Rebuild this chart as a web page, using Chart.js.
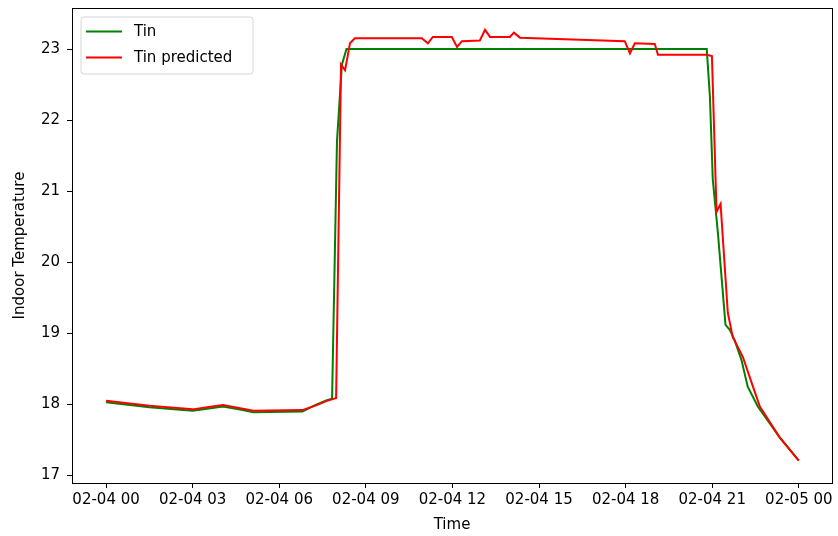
<!DOCTYPE html>
<html>
<head>
<meta charset="utf-8">
<script src="https://cdn.jsdelivr.net/npm/chart.js@4/dist/chart.umd.min.js"></script>
<style>
  html, body { margin: 0; padding: 0; background: #fff; }
  #wrap { width: 838px; height: 536px; }
</style>
</head>
<body>
<div id="wrap"><canvas id="c" width="838" height="536"></canvas></div>
<script>
// Hours since 02-04 00:00 and indoor temperatures (measured)
const tinHours = [0, 1.5, 3, 3.5, 4.05, 4.6, 5.1, 6.8, 7.3, 7.65, 7.83, 8.0, 8.17, 8.33,
  20.81, 20.92, 21.02, 21.13, 21.2, 21.46, 21.61, 21.78, 22.01, 22.23, 22.58, 23.33, 24];
const tinValues = [18.03, 17.96, 17.91, 17.94, 17.97, 17.93, 17.89, 17.90, 18.00, 18.06, 18.08, 21.7, 22.78, 23.0,
  23.0, 22.33, 21.16, 20.7, 20.4, 19.12, 19.05, 18.9, 18.63, 18.25, 17.97, 17.54, 17.21];

// Hours and model predictions of indoor temperature
const predHours = [0, 1.5, 3, 3.5, 4.05, 4.6, 5.1, 6.8, 7.3, 7.65, 7.83, 7.97, 8.14, 8.28, 8.45, 8.62,
  10.94, 11.15, 11.32, 11.98, 12.16, 12.33, 12.95, 13.13, 13.3, 13.99, 14.13, 14.34,
  17.97, 18.15, 18.32, 19.01, 19.12, 20.81, 20.99, 21.15, 21.29, 21.54, 21.71, 22.06, 22.37, 22.65, 23.33, 24];
const predValues = [18.05, 17.98, 17.93, 17.96, 17.99, 17.95, 17.91, 17.92, 17.99, 18.05, 18.07, 18.09, 22.78, 22.70, 23.08, 23.15,
  23.15, 23.08, 23.17, 23.17, 23.03, 23.11, 23.12, 23.27, 23.17, 23.17, 23.23, 23.16,
  23.11, 22.94, 23.08, 23.07, 22.92, 22.92, 22.90, 20.71, 20.82, 19.29, 18.95, 18.67, 18.30, 17.97, 17.54, 17.21];

const xTickHours = [0, 3, 6, 9, 12, 15, 18, 21, 24];
const xTickLabels = ['02-04 00', '02-04 03', '02-04 06', '02-04 09', '02-04 12',
  '02-04 15', '02-04 18', '02-04 21', '02-05 00'];
const yTickValues = [17, 18, 19, 20, 21, 22, 23];

const toPoints = (xs, ys) => xs.map((x, i) => ({ x: x, y: ys[i] }));

const FONT = 'DejaVu Sans';

// Frame around the plot area plus a boxed legend in the upper-left corner
const framePlugin = {
  id: 'frame',
  afterDraw(chart) {
    const { ctx, chartArea: a } = chart;
    ctx.save();
    ctx.strokeStyle = '#000';
    ctx.lineWidth = 1;
    ctx.strokeRect(Math.round(a.left) + 0.5, Math.round(a.top) + 0.5,
      Math.round(a.right - a.left), Math.round(a.bottom - a.top));

    // legend box
    const bx = a.left + 9, by = a.top + 9, bw = 172, bh = 57, r = 3;
    ctx.beginPath();
    ctx.moveTo(bx + r, by);
    ctx.arcTo(bx + bw, by, bx + bw, by + bh, r);
    ctx.arcTo(bx + bw, by + bh, bx, by + bh, r);
    ctx.arcTo(bx, by + bh, bx, by, r);
    ctx.arcTo(bx, by, bx + bw, by, r);
    ctx.closePath();
    ctx.fillStyle = 'rgba(255,255,255,0.8)';
    ctx.fill();
    ctx.strokeStyle = '#d6d6d6';
    ctx.stroke();

    chart.data.datasets.forEach((ds, i) => {
      const y = by + 14.5 + i * 26;
      ctx.beginPath();
      ctx.strokeStyle = ds.borderColor;
      ctx.lineWidth = 2;
      ctx.moveTo(bx + 5, y);
      ctx.lineTo(bx + 41, y);
      ctx.stroke();
      ctx.fillStyle = '#000';
      ctx.font = '15px "' + FONT + '"';
      ctx.textBaseline = 'middle';
      ctx.textAlign = 'left';
      ctx.fillText(ds.label, bx + 53, y + 1);
    });
    ctx.restore();
  }
};

new Chart(document.getElementById('c'), {
  type: 'line',
  data: {
    datasets: [
      { label: 'Tin', data: toPoints(tinHours, tinValues), borderColor: '#008000',
        borderWidth: 2, pointRadius: 0, tension: 0, fill: false, order: 1 },
      { label: 'Tin predicted', data: toPoints(predHours, predValues), borderColor: '#ff0000',
        borderWidth: 2, pointRadius: 0, tension: 0, fill: false, order: 0 }
    ]
  },
  options: {
    responsive: false,
    animation: false,
    layout: { padding: { top: 8, right: 6, left: 0, bottom: 0 } },
    plugins: { legend: { display: false }, tooltip: { enabled: false } },
    scales: {
      x: {
        type: 'linear',
        min: -1.18, max: 25.15,
        afterFit(s) { s.height = 53; s.paddingLeft = 0; s.paddingRight = 0; },
        afterBuildTicks(s) { s.ticks = xTickHours.map(v => ({ value: v })); },
        ticks: {
          autoSkip: false, maxRotation: 0, padding: 3, color: '#000',
          font: { family: FONT, size: 15 },
          callback: (v) => xTickLabels[xTickHours.indexOf(v)]
        },
        grid: { display: true, drawOnChartArea: false, drawTicks: true, tickLength: 5, color: '#000' },
        border: { display: true, color: '#000' },
        title: { display: true, text: 'Time', color: '#000', font: { family: FONT, size: 15 },
          padding: { top: 0, bottom: 2 } }
      },
      y: {
        type: 'linear',
        min: 16.894, max: 23.577,
        afterFit(s) { s.width = 72; s.paddingTop = 0; s.paddingBottom = 0; },
        afterBuildTicks(s) { s.ticks = yTickValues.map(v => ({ value: v })); },
        ticks: { padding: 7, color: '#000', font: { family: FONT, size: 15 } },
        grid: { display: true, drawOnChartArea: false, drawTicks: true, tickLength: 5, color: '#000' },
        border: { display: true, color: '#000' },
        title: { display: true, text: 'Indoor Temperature', color: '#000', font: { family: FONT, size: 15 },
          padding: { top: 11, bottom: 0 } }
      }
    }
  },
  plugins: [framePlugin]
});
</script>
</body>
</html>
